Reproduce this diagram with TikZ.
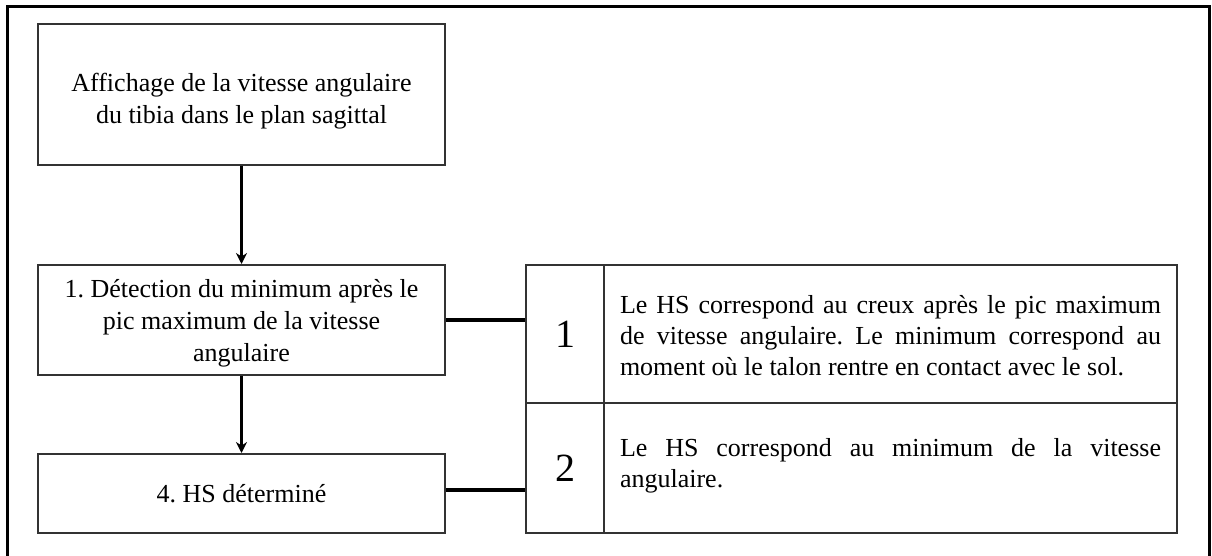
\documentclass[tikz,border=0pt]{standalone}
\usepackage{fontspec}
\setmainfont{Liberation Serif}
\usetikzlibrary{arrows.meta}
\frenchspacing
\begin{document}
\begin{tikzpicture}[x=1pt,y=-1pt,
  flowbox/.style={draw=black!80, line width=2pt, rectangle, inner sep=0pt, align=center,
    font=\fontsize{26}{32}\selectfont},
  flowtext/.style={inner sep=0pt, align=center, font=\fontsize{26}{32}\selectfont},
  cellbox/.style={draw=black!80, line width=2pt, rectangle, inner sep=0pt},
  numtext/.style={font=\fontsize{40}{44}\selectfont},
  desctext/.style={text width=541pt, align=justify, inner sep=0pt, font=\fontsize{26}{31}\selectfont},
  flowarrow/.style={line width=2.5pt, -{Stealth[length=11pt,width=11pt]}},
  linkline/.style={line width=4pt}
]
\useasboundingbox (0,0) rectangle (1212,556);
\fill[white] (0,0) rectangle (1212,556);
\draw[line width=3pt] (7,556) -- (7,7) -- (1209,7) -- (1209,556);

\node[flowbox, minimum width=407pt, minimum height=141pt] (A) at (241.5,94.5) {};
\node[flowtext] (At) at (241.5,101)
  {Affichage de la vitesse angulaire\\du tibia dans le plan sagittal};
\node[flowbox, minimum width=407pt, minimum height=110pt] (B) at (241.5,320) {};
\node[flowtext] (Bt) at (241.5,323)
  {1. Détection du minimum après le\\pic maximum de la vitesse\\angulaire};
\node[flowbox, minimum width=407pt, minimum height=79pt] (C) at (241.5,493.5)
  {4. HS déterminé};

\node[cellbox, minimum width=78pt, minimum height=138pt] (n1) at (565,334) {};
\node[cellbox, minimum width=573pt, minimum height=138pt] (d1) at (890.5,334) {};
\node[cellbox, minimum width=78pt, minimum height=130pt] (n2) at (565,468) {};
\node[cellbox, minimum width=573pt, minimum height=130pt] (d2) at (890.5,468) {};

\node[numtext] (n1t) at (n1.center) {1};
\node[numtext] (n2t) at (n2.center) {2};
\node[desctext] (d1t) at (890.5,336)
  {Le HS correspond au creux après le pic maximum\linebreak de vitesse angulaire. Le minimum correspond au\linebreak moment où le talon rentre en contact avec le sol.};
\node[desctext] (d2t) at (890.5,466)
  {Le HS correspond au minimum de la vitesse\linebreak angulaire.};

\draw[flowarrow] (A.south) -- (B.north);
\draw[flowarrow] (B.south) -- (C.north);
\draw[linkline] (B.east) -- (B.east -| n1.west);
\draw[linkline] ([yshift=4pt]C.east) -- ([yshift=4pt]C.east -| n2.west);
\end{tikzpicture}
\end{document}
